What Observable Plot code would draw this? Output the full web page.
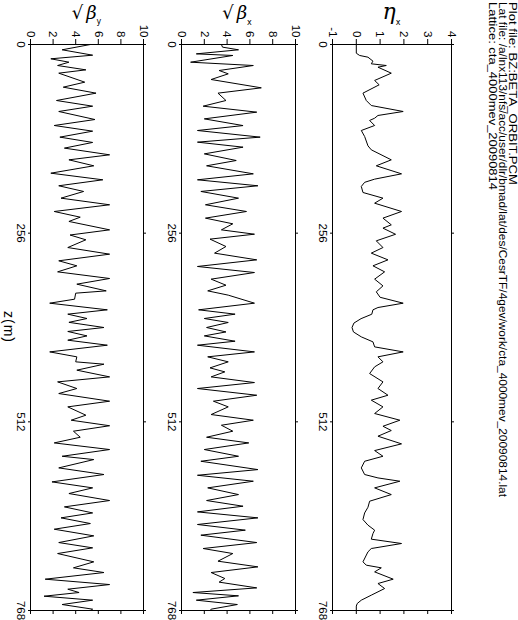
<!DOCTYPE html>
<html><head><meta charset="utf-8">
<script src="https://cdn.jsdelivr.net/npm/d3@7"></script>
<script src="https://cdn.jsdelivr.net/npm/@observablehq/plot@0.6"></script>
<style>
html,body{margin:0;padding:0;background:#fff;overflow:hidden;width:518px;height:620px;}
#wrap{position:absolute;left:0;top:0;width:620px;height:518px;transform-origin:0 0;transform:translate(518px,0) rotate(90deg);background:#fff;font-family:"Liberation Sans",Arial,sans-serif;}
#wrap > svg{position:absolute;left:0;}
</style></head><body><div id="wrap"></div>
<script>
// ---- data ----
const titleLines = [
  "Plot file: BZ:BETA_ORBIT.PCM",
  "Lat file: /a/lnx113/nfs/acc/user/dlr/bmad/lat/des/CesrTF/4gev/work/cta_4000mev_20090814.lat",
  "Lattice: cta_4000mev_20090814"
];
const zTicks = [0, 256, 512, 768];
const etaTicks = [-1, 0, 1, 2, 3, 4];
const betaTicks = [0, 2, 4, 6, 8, 10];
const xLabel = "z(m)";

// [z (m), eta_x (m)]
const etaX = [[0,0],[11.8,0],[14.9,0.14],[17.2,0.49],[22.6,0.70],[26.2,0.63],[28.5,1.26],[30.8,0.91],[38.9,1.47],[48.8,0.77],[54.7,0.96],[66.0,0.28],[76.0,0.42],[82.8,0.63],[90.9,1.97],[96.3,0.91],[100.0,0.77],[103.1,0.56],[109.9,0.77],[116.7,0.21],[124.8,0.35],[137.5,0.49],[142.9,0.63],[156.5,1.47],[164.6,0.84],[175.5,1.90],[182.7,0.77],[187.0,0.35],[192.6,0.21],[200.8,0.28],[208.5,1.12],[215.3,0.77],[226.6,1.90],[235.6,1.12],[244.7,1.47],[249.2,1.12],[257.5,1.65],[266.4,0.84],[275.5,1.12],[283.1,0.63],[292.2,1.33],[300.3,0.70],[308.5,1.19],[318.4,0.77],[327.5,1.12],[335.6,0.84],[343.0,1.00],[351.0,1.97],[356.9,0.91],[360.0,0.70],[366.0,0.65],[372.0,0.20],[378.0,-0.10],[384.0,-0.18],[390.0,-0.12],[396.7,0.21],[403.5,0.70],[410.3,0.77],[417.1,1.97],[423.8,0.91],[430.6,1.12],[437.4,0.77],[446.5,0.56],[457.8,1.12],[466.8,0.91],[475.9,1.33],[482.6,0.63],[491.7,1.12],[500.7,0.77],[509.8,1.83],[518.0,1.12],[523.8,1.47],[531.5,0.91],[541.9,1.90],[551.0,0.77],[558.7,1.12],[565.5,0.35],[574.5,0.21],[583.5,0.35],[588.1,0.91],[592.6,1.83],[601.6,0.77],[610.7,1.47],[619.7,0.56],[627.9,0.49],[635.6,0.35],[644.6,0.28],[652.2,0.49],[659.0,0.77],[663.6,0.70],[671.2,0.63],[677.1,1.90],[683.9,0.63],[688.4,0.49],[702.0,0.28],[706.5,0.42],[710.1,1.05],[715.6,0.77],[725.5,1.55],[731.4,0.91],[738.2,1.19],[747.2,0.63],[754.0,0.21],[758.5,0.04],[762.0,0],[768.0,0]];

// [z (m), sqrt(beta_x)]
const sqrtBetaX = [[0,3.5],[3.6,3.6],[7.2,5.0],[12.7,1.3],[14.9,4.5],[24,0.8],[28.5,6.3],[35.3,3.3],[39.8,4.1],[47.5,2.6],[58.8,7.0],[66,3.2],[76,3.9],[83.7,1.9],[91.8,6.6],[100.9,2.0],[110,5.4],[116.7,1.4],[125.7,6.9],[132.5,1.4],[139.3,5.4],[148.4,2.0],[157.4,4.8],[164.6,2.2],[175.5,6.3],[183.6,1.4],[191.7,6.7],[199.4,1.7],[208.5,5.0],[217.5,2.1],[226.6,5.7],[235.6,2.1],[243.3,4.5],[251.5,3.5],[257.4,6.4],[264.1,2.5],[274.1,3.9],[283.1,2.9],[292.2,6.6],[301.2,1.4],[309.4,6.4],[318.4,2.6],[326.6,3.9],[334.3,2.3],[340.1,4.1],[351,6.4],[360,1.5],[365.9,4.7],[371.8,2.0],[377.2,4.1],[384,2.2],[390,3.9],[395.4,2.0],[402.6,4.7],[408,1.4],[417.1,6.4],[423.8,2.3],[430.6,4.1],[438.8,2.5],[444.2,3.8],[451,2.6],[458.7,6.4],[466.8,1.4],[475.9,6.6],[484,2.8],[491.7,4.1],[502.1,2.6],[509.8,6.3],[516.6,3.5],[524.7,4.5],[532.9,2.2],[540.6,5.9],[549.6,2.0],[558.7,5.0],[565.5,1.7],[576.8,6.7],[584.5,1.4],[592.6,6.3],[601.6,2.3],[610.7,5.0],[618.8,2.2],[626.5,5.4],[634.2,1.4],[642.3,6.7],[651.3,1.4],[659,5.6],[665.8,1.7],[675.8,6.6],[683.9,1.9],[690.7,4.5],[701.1,3.2],[708.8,6.7],[716.5,2.6],[724.6,3.8],[729.5,3.3],[737.3,6.6],[743.6,1.0],[748.1,5.0],[754,1.3],[759.9,4.9],[766.2,2.6],[768,2.5]];

// [z (m), sqrt(beta_y)]
const sqrtBetaY = [[0,5.3],[7.2,2.8],[14.5,5.5],[19.4,1.8],[24,3.4],[28.5,2.4],[34.4,4.9],[38.9,2.5],[51.1,4.8],[57.9,2.9],[66,5.8],[76,2.3],[83.7,5.5],[90.9,2.5],[101.8,5.7],[109.9,2.1],[117.6,5.5],[125.7,2.6],[132.9,5.5],[140.6,3.0],[149.7,7.0],[156.5,3.4],[164.6,5.6],[174.6,1.8],[183.6,6.4],[191.7,2.5],[199.4,4.7],[208.5,2.7],[217.5,7.0],[226.6,2.1],[234.3,4.4],[240.1,3.4],[251.5,7.0],[258.5,3.5],[265,4.9],[275.5,3.3],[284.5,7.0],[293.5,2.5],[300.3,4.1],[308.5,2.4],[317.5,7.0],[325.2,4.1],[334.3,6.7],[337.4,4.0],[345.6,3.9],[351,1.7],[360,6.8],[365.9,3.3],[371.8,5.0],[377,3.4],[384,6.5],[389.4,3.3],[395.4,5.0],[401.2,3.3],[408,6.8],[417.1,1.7],[423.8,4.1],[430.6,4.0],[433.8,6.5],[441.9,4.1],[451,7.0],[457.8,2.4],[466.8,4.1],[473.6,2.5],[484,7.0],[491.7,3.3],[503,4.9],[509.8,3.6],[517.3,7.0],[524.7,3.8],[532.9,4.4],[540.6,2.1],[549.6,7.0],[558.7,2.8],[563.2,5.6],[574.5,2.5],[583.5,6.5],[593.5,1.9],[601.6,5.5],[609.3,3.4],[618.8,7.0],[627.4,3.0],[635.6,5.5],[642.3,2.7],[650,5.3],[657.7,2.1],[666.7,5.6],[675.8,2.5],[683,5.5],[690.7,2.4],[702,5.6],[710.1,3.8],[716.5,6.5],[725.5,1.3],[732.8,7.0],[739.1,3.3],[743.6,4.3],[748.6,1.2],[754,5.5],[759.9,2.8],[766.2,5.5],[768,5.3]];

// ---- drawing ----
const wrap = document.getElementById("wrap");

// header (three file lines)
const hdr = d3.select(wrap).append("svg").attr("width", 620).attr("height", 34).style("top", "0px");
const hdrBase = [9.5, 19.5, 29.5];
const hdrLen = [183, 495, 188];
titleLines.forEach((t, i) => {
  hdr.append("text").attr("x", 2).attr("y", hdrBase[i])
    .attr("textLength", hdrLen[i]).attr("lengthAdjust", "spacingAndGlyphs")
    .attr("font-family", "Liberation Sans, Arial, sans-serif").attr("font-size", 10)
    .attr("fill", "#000").text(t);
});

function panel(rows, yDomain, yTicks, cfg) {
  const data = rows.map(([z, v]) => ({z, v}));
  const svg = Plot.plot({
    width: 620, height: cfg.height,
    marginLeft: 44, marginRight: 10, marginTop: cfg.mt, marginBottom: cfg.mb,
    style: {fontFamily: "Liberation Sans, Arial, sans-serif", fontSize: "11.5px", color: "#000", background: "transparent", overflow: "visible"},
    x: {domain: [0, 768]},
    y: {domain: yDomain},
    marks: [
      Plot.axisX({anchor: "bottom", ticks: zTicks, tickSize: 3, tickPadding: 2, tickFormat: d => String(d), label: null}),
      Plot.axisX({anchor: "top", ticks: zTicks, tickSize: 3, tickFormat: () => "", label: null}),
      Plot.axisY({anchor: "left", ticks: yTicks, tickSize: 5, tickPadding: 2, tickFormat: d => String(d), label: null}),
      Plot.axisY({anchor: "right", ticks: yTicks, tickSize: 3, tickFormat: () => "", label: null}),
      Plot.frame({stroke: "#000", strokeWidth: 1}),
      Plot.line(data, {x: "z", y: "v", stroke: "#000", strokeWidth: 1})
    ]
  });
  svg.style.top = cfg.top + "px";
  // panel label, drawn upright in the final (rotated) view
  const cy = cfg.mt + (cfg.height - cfg.mt - cfg.mb) / 2 + (cfg.dy || 0);
  const t = d3.select(svg).append("text")
    .attr("transform", `translate(${cfg.lx},${cy}) rotate(-90)`)
    .attr("text-anchor", "middle").attr("fill", "#000");
  cfg.label(t);
  if (cfg.xlabel) {
    d3.select(svg).append("text")
      .attr("x", 44 + (620 - 44 - 10) / 2).attr("y", cfg.height - 4)
      .attr("text-anchor", "middle").attr("font-family", "Liberation Sans, Arial, sans-serif")
      .attr("font-size", 14).attr("letter-spacing", 1).attr("fill", "#000").text(xLabel);
  }
  wrap.appendChild(svg);
}

panel(etaX, [-1, 4], etaTicks, {top: 40, height: 170, mt: 26, mb: 25, lx: 19, dy: 1,
  label: t => {
    t.append("tspan").attr("font-family", "DejaVu Serif").attr("font-style", "italic").attr("font-size", 22).text("η");
    t.append("tspan").attr("font-family", "DejaVu Sans").attr("font-size", 8).attr("dy", 6).text("x");
  }});
panel(sqrtBetaX, [0, 10], betaTicks, {top: 210, height: 151, mt: 12, mb: 25, lx: 19, dy: 2,
  label: t => {
    t.append("tspan").attr("font-family", "DejaVu Sans").attr("font-size", 18).text("√");
    t.append("tspan").attr("font-family", "DejaVu Serif").attr("font-style", "italic").attr("font-size", 18).attr("dx", 3).text("β");
    t.append("tspan").attr("font-family", "DejaVu Sans").attr("font-size", 8).attr("dy", 6).text("x");
  }});
panel(sqrtBetaY, [0, 10], betaTicks, {top: 350, height: 168, mt: 24, mb: 31, lx: 19, dy: 1, xlabel: true,
  label: t => {
    t.append("tspan").attr("font-family", "DejaVu Sans").attr("font-size", 18).text("√");
    t.append("tspan").attr("font-family", "DejaVu Serif").attr("font-style", "italic").attr("font-size", 18).attr("dx", 3).text("β");
    t.append("tspan").attr("font-family", "DejaVu Sans").attr("font-size", 8).attr("dy", 5).text("y");
  }});
</script></body></html>
